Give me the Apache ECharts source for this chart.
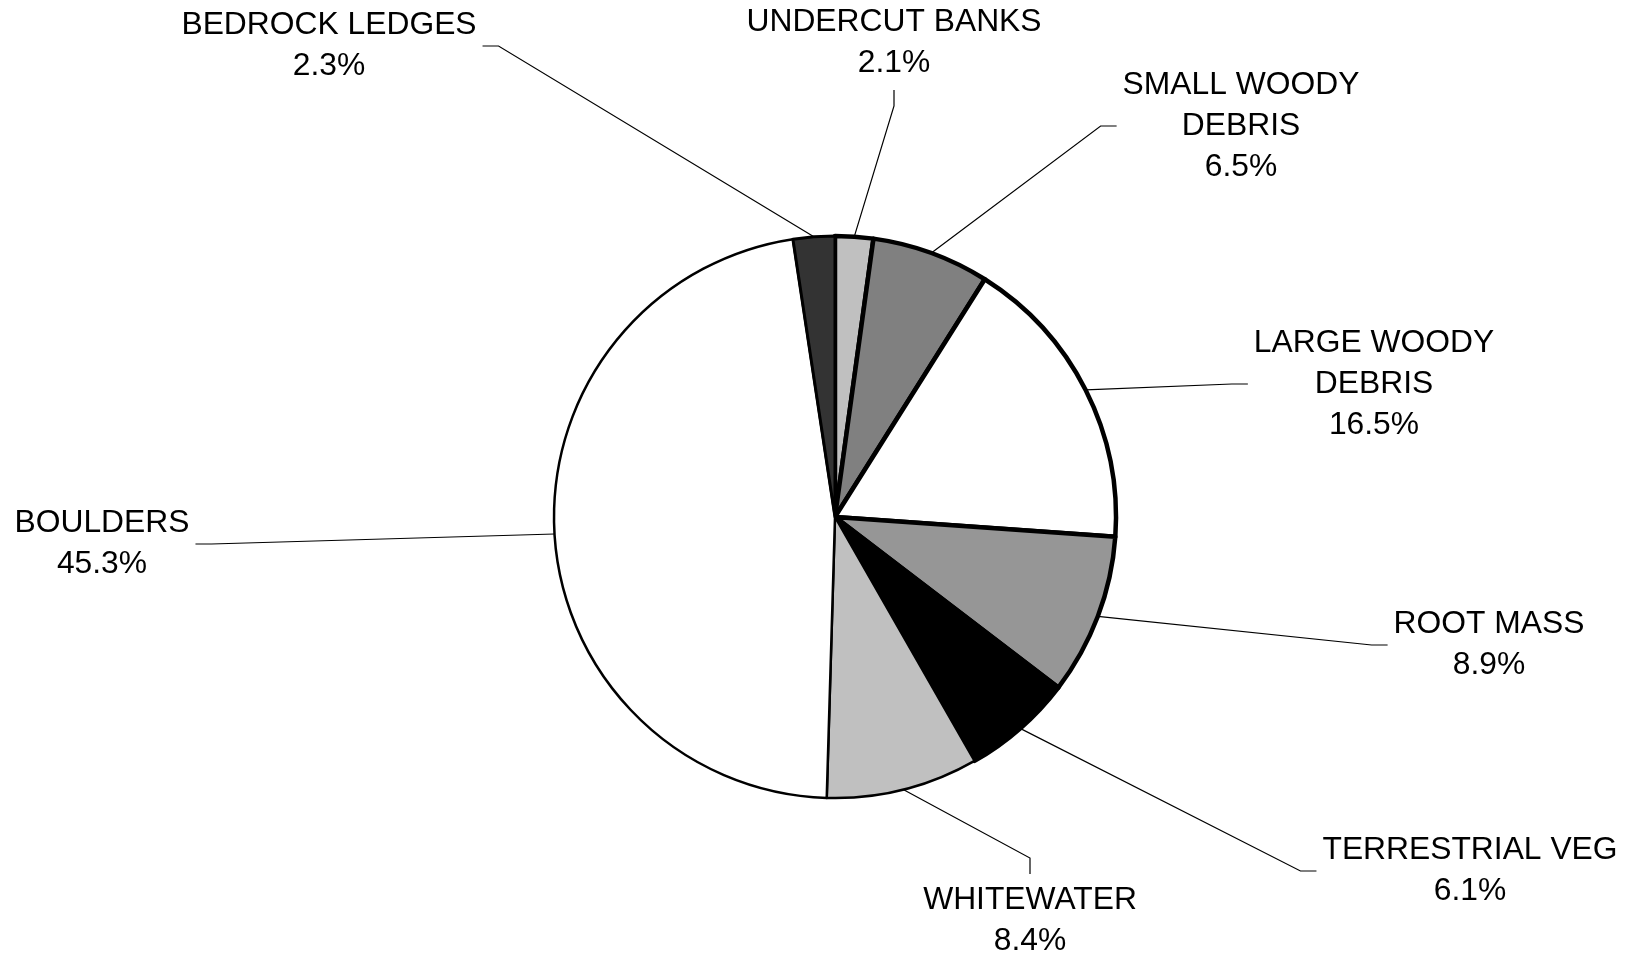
<!DOCTYPE html>
<html>
<head>
<meta charset="utf-8">
<title>Habitat cover types</title>
<script src="https://cdn.jsdelivr.net/npm/echarts@6/dist/echarts.min.js"></script>
<style>
  html, body { margin: 0; padding: 0; background: #ffffff; }
  #chart { width: 1629px; height: 957px; }
</style>
</head>
<body>
<div id="chart"></div>
<script>
// Cover types, clockwise from twelve o'clock
var categories = [
  'UNDERCUT BANKS',
  'SMALL WOODY\nDEBRIS',
  'LARGE WOODY\nDEBRIS',
  'ROOT MASS',
  'TERRESTRIAL VEG',
  'WHITEWATER',
  'BOULDERS',
  'BEDROCK LEDGES'
];
// Percent of cover
var values = [2.1, 6.5, 16.5, 8.9, 6.1, 8.4, 45.3, 2.3];

// Slice fills and outline widths
var fills = ['#c0c0c0', '#808080', '#ffffff', '#969696', '#000000', '#c0c0c0', '#ffffff', '#333333'];
var outlines = [4.5, 4.5, 4.5, 4.5, 4.5, 2.5, 2.5, 3];

// Label block centres (px)
var labelPos = [
  [894, 43],
  [1241, 126],
  [1374, 384],
  [1489, 645],
  [1470, 871],
  [1030, 921],
  [102, 544],
  [329, 46]
];

var chart = echarts.init(document.getElementById('chart'), null, { renderer: 'canvas' });

var seriesData = categories.map(function (name, i) {
  return {
    name: name,
    value: values[i],
    itemStyle: { color: fills[i], borderColor: '#000000', borderWidth: outlines[i] }
  };
});

var GAP = 6;     // space between leader line and label box
var STUB = 16;   // short straight piece next to the label

chart.setOption({
  backgroundColor: '#ffffff',
  animation: false,
  series: [{
    type: 'pie',
    center: [835, 517],
    radius: 281,
    startAngle: 90,
    clockwise: true,
    avoidLabelOverlap: false,
    data: seriesData,
    emphasis: { disabled: true },
    label: {
      show: true,
      position: 'outside',
      formatter: function (p) { return p.name + '\n' + p.value.toFixed(1) + '%'; },
      fontFamily: '"Liberation Sans", Arial, sans-serif',
      fontSize: 31.8,
      lineHeight: 41,
      color: '#000000',
      align: 'center'
    },
    labelLine: {
      show: true,
      length: 10,
      length2: 10,
      lineStyle: { color: '#000000', width: 1.2 }
    },
    labelLayout: function (p) {
      var pos = labelPos[p.dataIndex];
      var w = p.labelRect.width, h = p.labelRect.height;
      var a = p.labelLinePoints[0];
      var dx = pos[0] - a[0], dy = pos[1] - a[1];
      var end, bend;
      if (Math.abs(dy) > Math.abs(dx)) {
        // label above or below the slice: attach to the top/bottom edge
        var sy = dy < 0 ? 1 : -1;
        end = [pos[0], pos[1] + sy * (h / 2 + GAP)];
        bend = [end[0], end[1] + sy * STUB];
      } else {
        // label left or right of the slice: attach to the side edge
        var sx = dx < 0 ? 1 : -1;
        end = [pos[0] + sx * (w / 2 + GAP), pos[1]];
        bend = [end[0] + sx * STUB, end[1]];
      }
      return {
        x: pos[0],
        y: pos[1],
        align: 'center',
        verticalAlign: 'middle',
        labelLinePoints: [a, bend, end]
      };
    }
  }]
});
</script>
</body>
</html>
